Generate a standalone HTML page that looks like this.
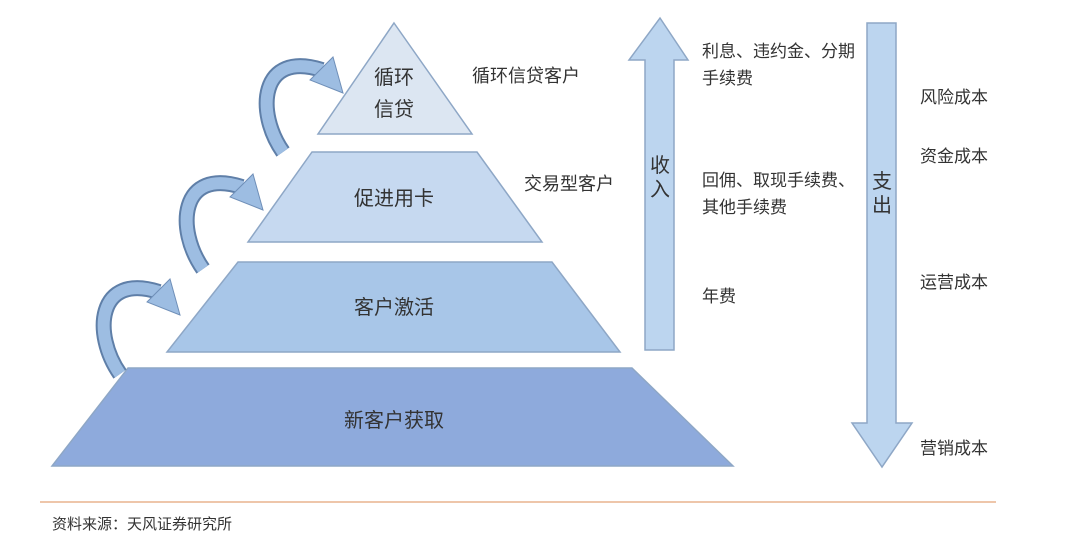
<!DOCTYPE html>
<html><head><meta charset="utf-8"><style>
body{margin:0;width:1080px;height:546px;background:#fff;overflow:hidden}
svg text{font-family:"Liberation Sans","Noto Sans CJK SC",sans-serif;fill:#333}
</style></head><body>
<svg width="1080" height="546" viewBox="0 0 1080 546">
<g stroke="#8ea7c6" stroke-width="1.5">
<polygon points="394,23 472,134 318,134" fill="#dce6f2"/>
<polygon points="312,152 477,152 542,242 248,242" fill="#c6d9f0"/>
<polygon points="238,262 552,262 620,352 167,352" fill="#a8c6e8"/>
<polygon points="128,368 632,368 733,466 52,466" fill="#8eaadc"/>
</g>
<text x="394" y="84" font-size="20" text-anchor="middle">循环</text>
<text x="394" y="116" font-size="20" text-anchor="middle">信贷</text>
<text x="394" y="205" font-size="20" text-anchor="middle">促进用卡</text>
<text x="394" y="314" font-size="20" text-anchor="middle">客户激活</text>
<text x="394" y="427" font-size="20" text-anchor="middle">新客户获取</text>
<defs>
<g id="ca">
<path d="M 283 152 C 255 112, 260 50, 322 70" fill="none" stroke="#5f7fa8" stroke-width="16"/>
<path d="M 283 152 C 255 112, 260 50, 322 70" fill="none" stroke="#9dbde2" stroke-width="12"/>
<polygon points="310,80 333,57 343,93" fill="#9dbde2" stroke="#6f8fb8" stroke-width="1"/>
</g>
</defs>
<use href="#ca"/>
<use href="#ca" transform="translate(-80,117)"/>
<use href="#ca" transform="translate(-163,222)"/>
<text x="472" y="82" font-size="18">循环信贷客户</text>
<text x="524" y="190" font-size="18">交易型客户</text>
<polygon points="660,18 688,60 674,60 674,350 645,350 645,60 629,60" fill="#bcd5ef" stroke="#8ea7c6" stroke-width="1.5"/>
<text x="660" y="172" font-size="20" text-anchor="middle">收</text>
<text x="660" y="196" font-size="20" text-anchor="middle">入</text>
<polygon points="867,23 896,23 896,423 912,423 882,467 852,423 867,423" fill="#bcd5ef" stroke="#8ea7c6" stroke-width="1.5"/>
<text x="882" y="188" font-size="20" text-anchor="middle">支</text>
<text x="882" y="212" font-size="20" text-anchor="middle">出</text>
<g font-size="17">
<text x="702" y="57">利息、违约金、分期</text>
<text x="702" y="84">手续费</text>
<text x="702" y="186">回佣、取现手续费、</text>
<text x="702" y="213">其他手续费</text>
<text x="702" y="302">年费</text>
<text x="920" y="103">风险成本</text>
<text x="920" y="162">资金成本</text>
<text x="920" y="288">运营成本</text>
<text x="920" y="454">营销成本</text>
</g>
<line x1="40" y1="502" x2="996" y2="502" stroke="#e8b48e" stroke-width="1.5"/>
<text x="52" y="529" font-size="15">资料来源：天风证券研究所</text>
</svg>
</body></html>
